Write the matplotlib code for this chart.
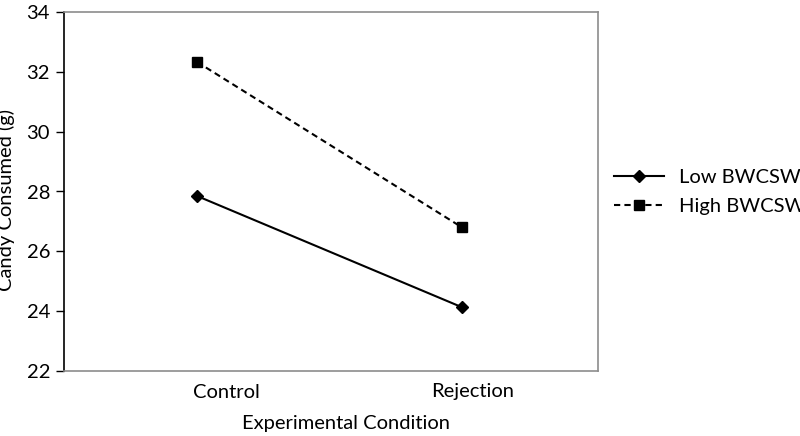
import matplotlib
matplotlib.use("Agg")
import matplotlib.pyplot as plt

# candy consumed by condition
conditions = ["Control", "Rejection"]
low_bwcsw = [27.85, 24.13]
high_bwcsw = [32.33, 26.80]

plt.rcParams['font.family'] = ['Lato', 'DejaVu Sans']

fig = plt.figure(figsize=(8, 4.36), dpi=100)
ax = fig.add_axes([64/800, 1-371/436, 534/800, 359/436])

x = [0, 1]
ax.plot(x, low_bwcsw, color="black", linestyle="-", linewidth=1.5,
        marker="D", markersize=6, label="Low BWCSW")
ax.plot(x, high_bwcsw, color="black", linestyle=(0, (3, 2)), linewidth=1.5,
        marker="s", markersize=7.5, label="High BWCSW")

# markers at ~197 and ~462 px
ax.set_xlim(-0.502, 1.513)
ax.set_ylim(22, 34)
ax.set_yticks([22, 24, 26, 28, 30, 32, 34])
# the category labels sit a bit right of the markers in the original
ax.set_xticks([0.11, 1.04])
ax.set_xticklabels(conditions)
ax.tick_params(axis="x", length=0, labelsize=14.5, pad=9)
ax.tick_params(axis="y", length=6, width=1, labelsize=14.5, pad=4, direction="out")

for s in ["top", "right", "bottom"]:
    ax.spines[s].set_color("#8c8c8c")
    ax.spines[s].set_linewidth(1.2)
ax.spines["left"].set_color("black")
ax.spines["left"].set_linewidth(1.2)

ax.set_xlabel("Experimental Condition", fontsize=14.5)
ax.xaxis.set_label_coords((346-64)/534, -(415-371)/359)
fig.text(6/800, 1-200/436, "Candy Consumed (g)", rotation=90,
         fontsize=14.5, ha="center", va="center")

fig.legend(loc="center left", bbox_to_anchor=(614/800, 1-192/436), frameon=False,
           borderaxespad=0, borderpad=0, fontsize=14.5, handlelength=2.5,
           handletextpad=0.75, labelspacing=0.55)

fig.savefig("out.png", dpi=100)
